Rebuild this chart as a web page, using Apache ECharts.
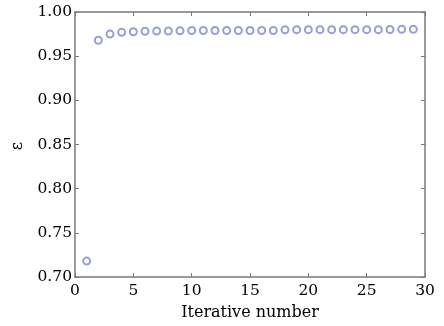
<!DOCTYPE html>
<html>
<head>
<meta charset="utf-8">
<script src="https://cdn.jsdelivr.net/npm/echarts@6/dist/echarts.min.js"></script>
<style>
  html, body { margin: 0; padding: 0; background: #fff; }
  #chart { width: 444px; height: 326px; }
</style>
</head>
<body>
<div id="chart"></div>
<script>
// iteration numbers and efficiency values
var iterations = [1, 2, 3, 4, 5, 6, 7, 8, 9, 10, 11, 12, 13, 14, 15, 16, 17, 18, 19, 20, 21, 22, 23, 24, 25, 26, 27, 28, 29];
var epsilon = [0.718, 0.968, 0.975, 0.977, 0.9776, 0.9782, 0.9784, 0.9785, 0.9788, 0.979, 0.979, 0.979, 0.979, 0.979, 0.979, 0.979, 0.979,
    0.9798, 0.98, 0.98, 0.98, 0.98, 0.98, 0.98, 0.98, 0.98, 0.9802, 0.9804, 0.9804];
var xTicks = [0, 5, 10, 15, 20, 25, 30];
var yTicks = [0.70, 0.75, 0.80, 0.85, 0.90, 0.95, 1.00];

var font = 'DejaVu Serif';
var frame = '#7a7a7a';

var chart = echarts.init(document.getElementById('chart'));

function xAxis(pos, show) {
    return {
        type: 'value', position: pos, min: xTicks[0], max: xTicks[xTicks.length - 1], interval: 5,
        axisLine: { show: true, onZero: false, lineStyle: { color: frame, width: 1.5 } },
        axisTick: { show: true, inside: true, length: 4, lineStyle: { color: frame } },
        axisLabel: { show: show, color: '#000', fontFamily: font, fontSize: 15.5, margin: 6 },
        splitLine: { show: false }
    };
}
function yAxis(pos, show) {
    return {
        type: 'value', position: pos, min: yTicks[0], max: yTicks[yTicks.length - 1], interval: 0.05,
        axisLine: { show: true, onZero: false, lineStyle: { color: frame, width: 1.5 } },
        axisTick: { show: true, inside: true, length: 4, lineStyle: { color: frame } },
        axisLabel: { show: show, color: '#000', fontFamily: font, fontSize: 15.5, margin: 3,
            formatter: function (v) { return v.toFixed(2); } },
        splitLine: { show: false }
    };
}

var xa = xAxis('bottom', true);
xa.name = 'Iterative number';
xa.nameLocation = 'middle';
xa.nameGap = 28;
xa.nameTextStyle = { color: '#000', fontFamily: font, fontSize: 16 };

chart.setOption({
    animation: false,
    backgroundColor: '#fff',
    grid: { left: 75, right: 19, top: 12, bottom: 46 },
    xAxis: [xa, xAxis('top', false)],
    yAxis: [yAxis('left', true), yAxis('right', false)],
    // y axis title, turned on its side as in the figure
    graphic: [{
        type: 'text', x: 18, y: 146, rotation: Math.PI / 2,
        style: { text: 'ε', fill: '#000', font: '16px "DejaVu Serif"', align: 'center', verticalAlign: 'middle' }
    }],
    series: [{
        type: 'scatter',
        data: iterations.map(function (x, i) { return [x, epsilon[i]]; }),
        symbol: 'circle',
        symbolSize: 7,
        itemStyle: { color: '#fff', borderColor: '#7c87cc', borderWidth: 2 }
    }]
});
</script>
</body>
</html>
